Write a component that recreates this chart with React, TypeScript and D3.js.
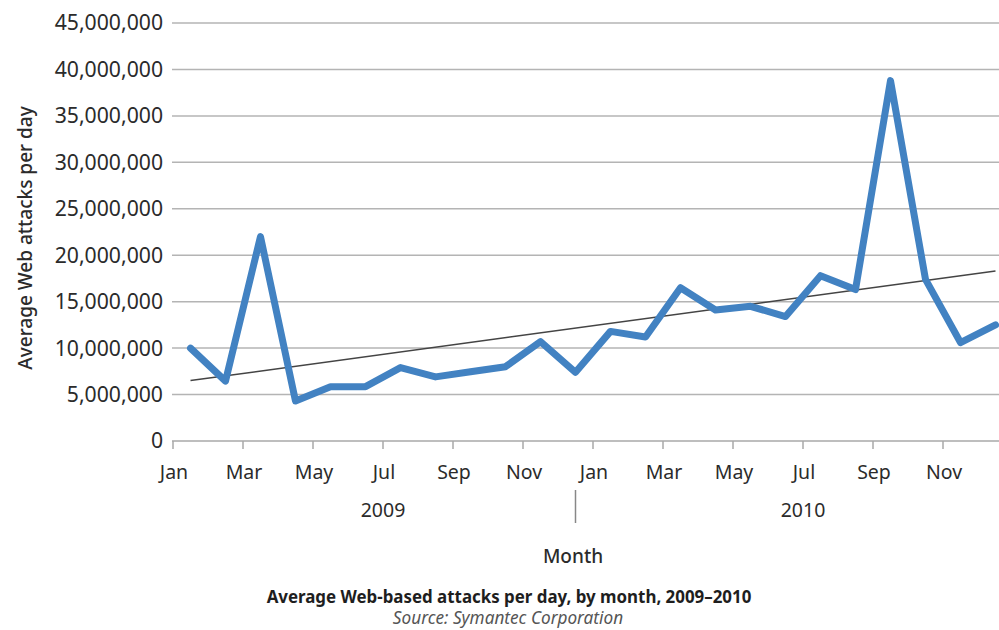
import React from 'react';
import * as d3 from 'd3';

const years = ['2009', '2010'];
const months = ['Jan', 'Feb', 'Mar', 'Apr', 'May', 'Jun', 'Jul', 'Aug', 'Sep', 'Oct', 'Nov', 'Dec'];
// Average Web-based attacks per day (millions), Jan 2009 .. Dec 2010
const attacks2009 = [10.0, 6.45, 22.0, 4.3, 5.85, 5.85, 7.9, 6.9, 7.45, 8.0, 10.7, 7.4];
const attacks2010 = [11.8, 11.2, 16.5, 14.1, 14.5, 13.4, 17.8, 16.3, 38.8, 17.4, 10.6, 12.5];
const yTicks = [0, 5e6, 10e6, 15e6, 20e6, 25e6, 30e6, 35e6, 40e6, 45e6];

const W = 999;
const H = 630;
const FONT = '"Noto Sans", "Open Sans", sans-serif';
const TEXT = '#2b2b2b';

export default function App() {
  const points = years.flatMap((yr, yi) =>
    months.map((m, mi) => ({
      key: `${yr}-${m}`,
      year: yr,
      month: m,
      idx: yi * 12 + mi,
      value: (yi === 0 ? attacks2009 : attacks2010)[mi] * 1e6,
    }))
  );

  const x = d3
    .scaleBand<number>()
    .domain(points.map((p) => p.idx))
    .range([173, 1013])
    .padding(0);
  const bw = x.bandwidth();
  const cx = (i: number) => (x(i) as number) + bw / 2;
  const y = d3.scaleLinear().domain([0, 45e6]).range([441, 23]);

  const line = d3
    .line<{ idx: number; value: number }>()
    .x((d) => cx(d.idx))
    .y((d) => y(d.value));

  // linear trendline (least squares)
  const n = points.length;
  const mx = d3.mean(points, (p) => p.idx) as number;
  const my = d3.mean(points, (p) => p.value) as number;
  const sxy = d3.sum(points, (p) => (p.idx - mx) * (p.value - my));
  const sxx = d3.sum(points, (p) => (p.idx - mx) ** 2);
  const slope = sxy / sxx;
  const icpt = my - slope * mx;
  const trend = [points[0], points[n - 1]].map((p) => ({ idx: p.idx, value: icpt + slope * p.idx }));

  const fmt = d3.format(',');
  const x0 = 172;
  const xEnd = 1013;

  return (
    <svg
      width={W}
      height={H}
      style={{ position: 'absolute', left: 0, top: 0, background: '#fff', display: 'block' }}
      fontFamily={FONT}
    >
      <rect x={0} y={0} width={W} height={H} fill="#fff" />
      {/* gridlines */}
      {yTicks.map((t) => (
        <line key={t} x1={x0} x2={xEnd} y1={y(t)} y2={y(t)} stroke={t === 0 ? '#a8a8a8' : '#b4b4b4'} strokeWidth={1.5} />
      ))}
      {/* y tick labels */}
      {yTicks.map((t) => (
        <text key={'l' + t} x={163} y={y(t)} dy="0.35em" textAnchor="end" fontSize={21.2} fill={TEXT}>
          {fmt(t)}
        </text>
      ))}
      {/* x ticks and labels */}
      {points
        .filter((p) => p.idx % 2 === 0)
        .map((p) => (
          <g key={'t' + p.key}>
            <line x1={x(p.idx)} x2={x(p.idx)} y1={441} y2={449} stroke="#a8a8a8" strokeWidth={1.5} />
            <text x={(x(p.idx) as number) + 1} y={479} textAnchor="middle" fontSize={19.5} fill={TEXT}>
              {p.month}
            </text>
          </g>
        ))}
      {/* year labels */}
      {years.map((yr, yi) => {
        const s = x(yi * 12) as number;
        const e = (x(yi * 12 + 11) as number) + bw;
        return (
          <text key={yr} x={(s + e) / 2} y={517} textAnchor="middle" fontSize={19.5} fill={TEXT}>
            {yr}
          </text>
        );
      })}
      {/* year separator */}
      <line x1={cx(11)} x2={cx(11)} y1={490} y2={523} stroke="#888" strokeWidth={1.5} />
      {/* trendline */}
      <path d={line(trend) as string} fill="none" stroke="#444" strokeWidth={1.5} />
      {/* data line */}
      <path
        d={line(points) as string}
        fill="none"
        stroke="#4282c2"
        strokeWidth={7}
        strokeLinejoin="round"
        strokeLinecap="round"
      />
      {/* axis titles */}
      <text
        transform={`translate(25, 238) rotate(-90)`}
        textAnchor="middle"
        dy="0.35em"
        fontSize={19}
        fontWeight={500}
        fill={TEXT}
      >
        Average Web attacks per day
      </text>
      <text x={573} y={563} textAnchor="middle" fontSize={19} fontWeight={500} fill={TEXT}>
        Month
      </text>
      <text x={509} y={603} textAnchor="middle" fontSize={16.9} fontWeight={700} fill="#1e1e1e">
        Average Web-based attacks per day, by month, 2009–2010
      </text>
      <text x={508} y={624} textAnchor="middle" fontSize={17.2} fontStyle="italic" fill="#555">
        Source: Symantec Corporation
      </text>
    </svg>
  );
}
